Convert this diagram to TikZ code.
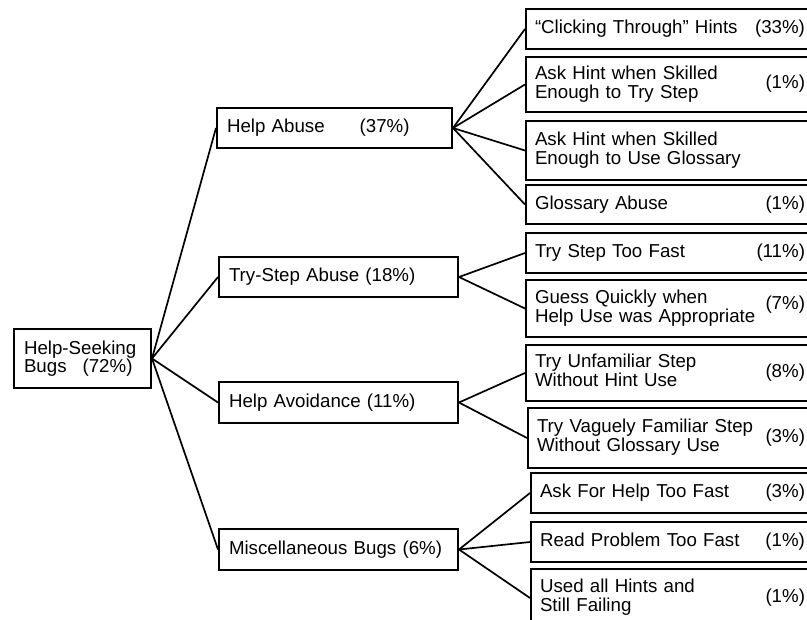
\documentclass[tikz,border=0pt]{standalone}
\usepackage{fontspec}
\setmainfont{Liberation Sans}
\usepackage{tikz}

\newcommand{\twolines}[2]{\begin{tabular}{@{}l@{}}#1\\#2\end{tabular}}
\newcommand{\pct}[1]{\hfill(#1\%)\kern-5pt}

\tikzset{
  groupbox/.style={draw, line width=2pt, inner xsep=10pt, inner ysep=0pt, align=left},
  bugbox/.style={draw, line width=2pt, inner xsep=9pt, inner ysep=0pt, align=left, text width=265pt},
  link/.style={line width=1.7pt}
}

\begin{document}
\begin{tikzpicture}[x=1pt,y=-1pt,font=\fontsize{18.7}{18}\selectfont]
\useasboundingbox (0,0) rectangle (807,620);

\node[groupbox, text width=117pt, minimum height=59pt] (root) at (82.5,358.5) {Help-Seeking\\Bugs\hspace{16pt}(72\%)};

\node[groupbox, text width=215pt, minimum height=40pt] (abuse) at (334.5,128) {Help Abuse\hspace{35pt}(37\%)};

\node[groupbox, text width=219pt, minimum height=40pt] (trystep) at (338.5,277) {Try-Step Abuse (18\%)};

\node[groupbox, text width=219pt, minimum height=41pt] (avoid) at (338.5,402.5) {Help Avoidance (11\%)};

\node[groupbox, text width=219pt, minimum height=41pt] (misc) at (338.5,549.5) {Miscellaneous Bugs (6\%)};

\node[bugbox, minimum height=40pt] (click) at (667.5,29) {``Clicking Through'' Hints\pct{33}};

\node[bugbox, minimum height=55pt] (hintstep) at (667.5,84.5) {\twolines{Ask Hint when Skilled}{Enough to Try Step}\pct{1}};

\node[bugbox, minimum height=59pt] (hintgloss) at (667.5,150.5) {\twolines{Ask Hint when Skilled}{Enough to Use Glossary}\hfill};

\node[bugbox, minimum height=39pt] (gloss) at (667.5,204.5) {Glossary Abuse\pct{1}};

\node[bugbox, minimum height=40pt] (fast) at (667.5,253) {Try Step Too Fast\pct{11}};

\node[bugbox, minimum height=57pt] (guess) at (667.5,308.5) {\twolines{Guess Quickly when}{Help Use was Appropriate}\hfill\raisebox{3pt}{(7\%)}\kern-5pt};

\node[bugbox, minimum height=56pt] (unfam) at (667.5,373) {\twolines{Try Unfamiliar Step}{Without Hint Use}\pct{8}};

\node[bugbox, text width=263pt, minimum height=60pt] (vague) at (668.5,438) {\twolines{Try Vaguely Familiar Step}{Without Glossary Use}\pct{3}};

\node[bugbox, text width=260pt, minimum height=40pt] (askfast) at (670,493) {Ask For Help Too Fast\pct{3}};

\node[bugbox, text width=260pt, minimum height=40pt] (readfast) at (670,542) {Read Problem Too Fast\pct{1}};

\node[bugbox, text width=260pt, minimum height=58pt] (allhints) at (670,598) {\twolines{Used all Hints and}{Still Failing}\pct{1}};


\draw[link] (root.east) -- (abuse.west);
\draw[link] (root.east) -- (trystep.west);
\draw[link] (root.east) -- (avoid.west);
\draw[link] (root.east) -- (misc.west);

\draw[link] (abuse.east) -- (click.west);
\draw[link] (abuse.east) -- (hintstep.west);
\draw[link] (abuse.east) -- (hintgloss.west);
\draw[link] (abuse.east) -- (gloss.west);

\draw[link] (trystep.east) -- (fast.west);
\draw[link] (trystep.east) -- (guess.west);

\draw[link] (avoid.east) -- (unfam.west);
\draw[link] (avoid.east) -- (vague.west);

\draw[link] (misc.east) -- (askfast.west);
\draw[link] (misc.east) -- (readfast.west);
\draw[link] (misc.east) -- (allhints.west);


\end{tikzpicture}
\end{document}
